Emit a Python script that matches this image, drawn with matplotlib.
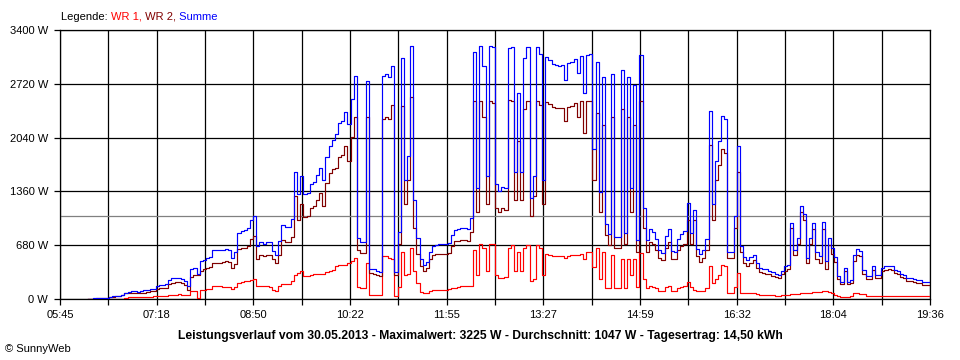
import matplotlib
matplotlib.use("Agg")
import matplotlib.pyplot as plt
import numpy as np

# ---- data -------------------------------------------------------------
# sample times in minutes after midnight (3-minute grid, 06:12 .. 19:36)
minutes = list(range(372, 1177, 3))

wr1 = [
    0, 0, 2, 2, 3, 3, 4, 4, 4, 4, 4, 5, 8, 20, 21, 21, 22, 24, 28, 29,
    30, 32, 36, 38, 38, 40, 52, 55, 55, 60, 55, 50, 45, 95, 97, 10, 118, 120, 125,
    130, 160, 160, 160, 150, 150, 150, 130, 150, 200, 220, 222, 225, 240, 257,
    170, 165, 160, 160, 155, 110, 97, 170, 190, 190, 195, 230, 300, 330, 350,
    290, 290, 300, 310, 316, 320, 320, 340, 350, 370, 420, 426, 426, 430, 460,
    480, 520, 150, 139, 140, 450, 55, 55, 55, 55, 540, 540, 520, 500, 40, 150,
    600, 300, 310, 650, 350, 200, 90, 76, 80, 100, 115, 118, 118, 118, 120, 125,
    140, 139, 155, 160, 160, 160, 170, 620, 300, 700, 650, 350, 700, 700, 300,
    270, 265, 280, 650, 687, 350, 600, 350, 650, 680, 230, 250, 680, 650, 300,
    568, 560, 545, 540, 540, 540, 520, 548, 550, 555, 560, 568, 500, 590, 590,
    400, 650, 250, 600, 139, 140, 550, 139, 140, 500, 140, 500, 300, 500, 150, 582,
    250, 140, 160, 155, 140, 100, 97, 150, 160, 97, 100, 140, 155, 160, 215,
    150, 120, 97, 97, 100, 140, 420, 200, 250, 300, 426, 420, 76, 76, 150, 330,
    76, 76, 76, 76, 70, 60, 55, 55, 55, 50, 45, 42, 42, 45, 55,
    55, 60, 65, 65, 70, 70, 70, 75, 85, 88, 88, 95, 97, 90, 78, 55, 40, 30,
    30, 30, 40, 70, 70, 67, 60, 42, 42, 42, 42, 40, 42, 42, 42, 42, 42, 40,
    40, 40, 40, 38, 38, 38, 36, 35, 35, 35,
]

wr2 = [
    0, 2, 5, 8, 10, 10, 12, 20, 30, 35, 38, 45, 72, 72, 75, 75, 72, 78, 80, 90,
    95, 100, 130, 135, 138, 145, 190, 205, 210, 210, 200, 180, 120, 280, 300, 300, 360, 375, 390,
    400, 455, 460, 460, 470, 480, 470, 390, 445, 630, 645, 650, 670, 760, 790,
    500, 560, 540, 560, 560, 500, 455, 560, 740, 720, 720, 780, 1300, 1000, 1200,
    1040, 1050, 1150, 1170, 1250, 1340, 1180, 1460, 1590, 1640, 1660, 1800, 1820, 1930, 1750,
    2050, 2300, 620, 582, 585, 2300, 330, 320, 300, 290, 2280, 2300, 2280, 2450, 300, 700,
    2440, 1200, 1500, 2550, 900, 570, 420, 350, 390, 500, 550, 570, 575, 575, 575, 580,
    670, 730, 735, 740, 740, 730, 850, 2500, 1100, 2500, 2300, 1200, 2500, 2480, 1150,
    1100, 1150, 1120, 2520, 2500, 1250, 2000, 1250, 2400, 2500, 1050, 1300, 2500, 2450, 1200,
    2496, 2460, 2430, 2420, 2410, 2420, 2250, 2430, 2440, 2480, 2300, 2500, 2100, 2500, 2505,
    1500, 2350, 1100, 2200, 810, 680, 2300, 650, 640, 2400, 700, 2300, 1100, 2200, 600, 2500,
    900, 600, 720, 690, 620, 520, 490, 650, 720, 510, 500, 620, 670, 700, 1000,
    690, 1000, 540, 470, 520, 620, 1950, 1000, 1500, 1700, 1890, 1850, 520, 520, 900, 1600,
    600, 450, 420, 460, 490, 390, 340, 330, 320, 310, 290, 275, 265, 310, 360,
    380, 900, 550, 700, 1100, 1000, 450, 700, 880, 500, 450, 880, 380, 680, 570, 470, 250, 190,
    360, 190, 200, 480, 560, 540, 310, 250, 250, 370, 265, 260, 350, 370, 375, 370, 330, 320,
    275, 265, 230, 225, 210, 205, 205, 180, 175, 175,
]

average_w = 1047

x_tick_labels = ["05:45", "07:18", "08:50", "10:22", "11:55", "13:27",
                 "14:59", "16:32", "18:04", "19:36"]
y_ticks = [0, 680, 1360, 2040, 2720, 3400]
y_tick_labels = ["0 W", "680 W", "1360 W", "2040 W", "2720 W", "3400 W"]

legend_parts = [("Legende: ", "#000000"), ("WR 1,", "#ff0000"),
                (" WR 2,", "#800000"), (" Summe", "#0000ff")]
title = ("Leistungsverlauf vom 30.05.2013 - Maximalwert: 3225 W - "
         "Durchschnitt: 1047 W - Tagesertrag: 14,50 kWh")
credit = "\u00a9 SunnyWeb"

# ---- figure -----------------------------------------------------------
t = np.array(minutes, dtype=float)
w1 = np.array(wr1, dtype=float)
w2 = np.array(wr2, dtype=float)
n = min(len(t), len(w1), len(w2))
t, w1, w2 = t[:n], w1[:n], w2[:n]
summe = w1 + w2

plt.rcParams['font.family'] = ['Liberation Sans', 'DejaVu Sans']
fig = plt.figure(figsize=(9.6, 3.6), dpi=100, facecolor="white")
ax = fig.add_axes([60 / 960, 1 - 299 / 360, 870 / 960, 269 / 360])

t_start, t_end = 345, 1176
ax.set_xlim(t_start, t_end)
ax.set_ylim(0, 3400)

xt = np.linspace(t_start, t_end, 19)
ax.set_xticks(xt)
labels = []
for i in range(19):
    labels.append(x_tick_labels[i // 2] if i % 2 == 0 else "")
ax.set_xticklabels(labels)
ax.set_yticks(y_ticks)
ax.set_yticklabels(y_tick_labels)

ax.grid(True, color="black", linewidth=0.9)
ax.set_axisbelow(True)
for s in ax.spines.values():
    s.set_color("black")
    s.set_linewidth(0.9)
ax.tick_params(axis="both", direction="out", length=4, width=0.9,
               color="black", labelsize=8, labelcolor="black")
ax.tick_params(axis="x", pad=4)
ax.tick_params(axis="y", pad=4.5)

ax.axhline(average_w, color="#808080", linewidth=0.9, zorder=1.5)

for vals, col, z in ((w1, "#ff0000", 3), (w2, "#800000", 4), (summe, "#0000ff", 5)):
    ax.plot(t, vals, color=col, linewidth=0.85, zorder=z, drawstyle="steps-mid")

# legend as coloured text sequence
fig.canvas.draw()
r = fig.canvas.get_renderer()
xpos = 61
for s, c in legend_parts:
    txt = fig.text(xpos / 960, 1 - 16.5 / 360, s, color=c, fontsize=8,
                   ha="left", va="center")
    bb = txt.get_window_extent(r)
    xpos = bb.x1

fig.text(480 / 960, 1 - 335.5 / 360, title, fontsize=8.7, fontweight="bold",
         ha="center", va="center")
fig.text(5 / 960, 1 - 349 / 360, credit, fontsize=8, ha="left", va="center")

fig.savefig("out.png", dpi=100, facecolor="white")
